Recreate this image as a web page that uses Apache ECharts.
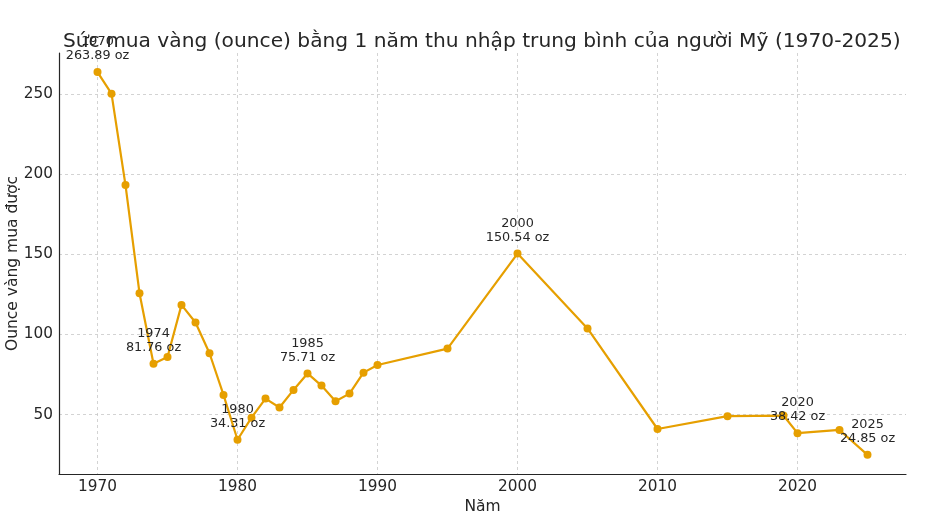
<!DOCTYPE html>
<html><head><meta charset="utf-8">
<script src="https://cdn.jsdelivr.net/npm/echarts@6/dist/echarts.min.js"></script>
<style>html,body{margin:0;padding:0;background:#fff}#c{width:933px;height:521px}</style>
</head><body><div id="c"></div>
<script>
const years = [1970,1971,1972,1973,1974,1975,1976,1977,1978,1979,1980,1981,1982,1983,1984,1985,1986,1987,1988,1989,1990,1995,2000,2005,2010,2015,2019,2020,2023,2025];
const ounces = [263.89,250.4,193.3,125.8,81.76,86.0,118.5,107.5,88.3,62.3,34.31,48.1,60.0,54.4,65.4,75.71,68.1,58.3,63.1,76.2,81.0,91.2,150.54,103.8,41.0,49.0,49.4,38.42,40.4,24.85];
const annotatedYears = [1970,1974,1980,1985,2000,2020,2025];
const xTicks = [1970,1980,1990,2000,2010,2020];
const yTicks = [50,100,150,200,250];

const font = 'DejaVu Sans';
const data = years.map((y,i)=>{
  const item = {value:[y, ounces[i]]};
  if (annotatedYears.includes(y)) {
    item.label = {show:true, formatter: y + '\n' + ounces[i].toFixed(2) + ' oz'};
  }
  return item;
});

const chart = echarts.init(document.getElementById('c'));
chart.setOption({
  animation:false,
  backgroundColor:'#fff',
  title:{text:'Sức mua vàng (ounce) bằng 1 năm thu nhập trung bình của người Mỹ (1970-2025)',
    left:58, top:27, textStyle:{fontFamily:font,fontSize:20.2,fontWeight:'normal',color:'#262626'}},
  grid:{left:59,right:27,top:53,bottom:47,containLabel:false,outerBoundsMode:'none'},
  xAxis:{type:'value',min:1967.25,max:2027.75,
    name:'Năm',nameLocation:'middle',nameGap:25,nameMoveOverlap:false,
    nameTextStyle:{fontFamily:font,fontSize:15.5,color:'#262626'},
    axisLine:{show:true,lineStyle:{color:'#262626',width:1.2}},
    axisTick:{show:false,customValues:xTicks},
    axisLabel:{customValues:xTicks,fontFamily:font,fontSize:15.3,color:'#262626',margin:6,formatter:v=>String(v)},
    splitLine:{show:true,lineStyle:{color:'#c8c8c8',type:[3,3],width:0.8}}},
  yAxis:{type:'value',min:12.9,max:275.8,
    name:'Ounce vàng mua được',nameLocation:'middle',nameGap:38,nameMoveOverlap:false,
    nameTextStyle:{fontFamily:font,fontSize:15.5,color:'#262626'},
    axisLine:{show:true,lineStyle:{color:'#262626',width:1.2}},
    axisTick:{show:false,customValues:yTicks},
    axisLabel:{customValues:yTicks,fontFamily:font,fontSize:15.3,color:'#262626',margin:6,formatter:v=>String(v)},
    splitLine:{show:true,lineStyle:{color:'#c8c8c8',type:[3,3],width:0.8}}},
  series:[{type:'line',data:data,symbol:'circle',symbolSize:8,
    itemStyle:{color:'#E69F00'},lineStyle:{color:'#E69F00',width:2.2},
    label:{show:false,position:'top',distance:5,fontFamily:font,fontSize:12.8,lineHeight:14,color:'#262626',align:'center'}}]
});
</script></body></html>
